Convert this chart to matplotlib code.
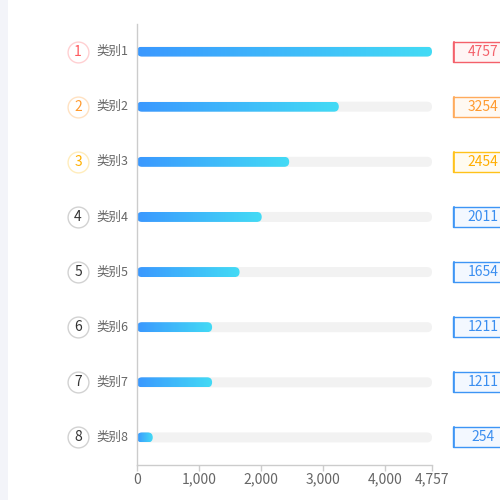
import matplotlib
matplotlib.use("Agg")
import matplotlib.pyplot as plt
import numpy as np
from matplotlib.patches import FancyBboxPatch, Rectangle
from matplotlib import transforms
from matplotlib.colors import LinearSegmentedColormap

plt.rcParams['font.family'] = ['Noto Sans CJK SC', 'DejaVu Sans']

categories = ['类别1', '类别2', '类别3', '类别4', '类别5', '类别6', '类别7', '类别8']
values = [4757, 3254, 2454, 2011, 1654, 1211, 1211, 254]
xticks = [0, 1000, 2000, 3000, 4000, 4757]
xtick_labels = ['0', '1,000', '2,000', '3,000', '4,000', '4,757']

rank_text_colors = ['#ff5a5f', '#ff9a2e', '#ffb000'] + ['#333333'] * 5
rank_edge_colors = ['#ffd0d2', '#ffe2c2', '#ffedbc'] + ['#d2d2d2'] * 5
box_edge_colors = ['#f4606a', '#ffab5c', '#ffc21a'] + ['#3d95f5'] * 5
box_face_colors = ['#fff5f5', '#fff9f2', '#fffbf0'] + ['#f3f8ff'] * 5
box_text_colors = ['#f4606a', '#ff9a2e', '#ffae00'] + ['#3a8ef0'] * 5

W, H = 500, 500
fig = plt.figure(figsize=(5, 5), dpi=100)
fig.patches.append(Rectangle((0, 0), 8 / W, 1, transform=fig.transFigure,
                             facecolor='#f3f4f9', edgecolor='none', zorder=0))

ax_l, ax_r, ax_b, ax_t = 137, 432, 465, 24
ax = fig.add_axes([ax_l / W, 1 - ax_b / H, (ax_r - ax_l) / W, (ax_b - ax_t) / H])
vmax = max(values)
n = len(categories)
ax.set_xlim(0, vmax)
ax.set_ylim(n - 0.5, -0.5)

xpp = vmax / (ax_r - ax_l)          # data x per pixel
ypp = n / (ax_b - ax_t)             # data y per pixel
aspect = ypp / xpp
bar_px = 10
bar_h = bar_px * ypp
rsize = (bar_px / 2) * xpp

cmap = LinearSegmentedColormap.from_list('g', ['#3a98ff', '#43dbf5'])
grad = np.linspace(0, 1, 256).reshape(1, -1)

for i, v in enumerate(values):
    bg = FancyBboxPatch((0, i - bar_h / 2), vmax, bar_h,
                        boxstyle=f"round,pad=0,rounding_size={rsize}",
                        mutation_aspect=aspect, facecolor='#f2f2f2',
                        edgecolor='none', zorder=1)
    ax.add_patch(bg)
    fg = FancyBboxPatch((0, i - bar_h / 2), v, bar_h,
                        boxstyle=f"round,pad=0,rounding_size={rsize}",
                        mutation_aspect=aspect, facecolor='none',
                        edgecolor='none', zorder=2)
    ax.add_patch(fg)
    im = ax.imshow(grad, cmap=cmap, aspect='auto',
                   extent=(0, v, i + bar_h / 2, i - bar_h / 2), zorder=2,
                   interpolation='bilinear')
    im.set_clip_path(fg)

ax.set_xlim(0, vmax)
ax.set_ylim(n - 0.5, -0.5)

blend = transforms.blended_transform_factory(fig.transFigure, ax.transData)
for i, cat in enumerate(categories):
    ax.plot([78 / W], [i], marker='o', markersize=15, markerfacecolor='white',
            markeredgecolor=rank_edge_colors[i], markeredgewidth=1.0,
            transform=blend, clip_on=False, zorder=5)
    ax.text(78 / W, i, str(i + 1), transform=blend, ha='center', va='center',
            fontsize=10, color=rank_text_colors[i], zorder=6)
    ax.text(128.5 / W, i, cat, transform=blend, ha='right', va='center',
            fontsize=9, color='#666666', zorder=6)
    bh = 20 * ypp
    rect = Rectangle((453 / W, i - bh / 2), 60 / W, bh, transform=blend,
                     facecolor=box_face_colors[i], edgecolor=box_edge_colors[i],
                     linewidth=1.0, clip_on=False, zorder=5)
    ax.add_patch(rect)
    ax.plot([454 / W, 454 / W], [i - bh / 2, i + bh / 2], color=box_edge_colors[i],
            linewidth=1.2, transform=blend, clip_on=False, zorder=6)
    ax.text(483 / W, i, str(values[i]), transform=blend, ha='center', va='center',
            fontsize=10, color=box_text_colors[i], zorder=7)

for s in ['top', 'right']:
    ax.spines[s].set_visible(False)
for s in ['left', 'bottom']:
    ax.spines[s].set_color('#cccccc')
    ax.spines[s].set_linewidth(1.0)
ax.set_yticks([])
ax.set_xticks(xticks)
ax.set_xticklabels(xtick_labels)
ax.tick_params(axis='x', colors='#cccccc', labelcolor='#666666', labelsize=10,
               length=4, width=1, pad=1.5)

fig.savefig('out.png', dpi=100, facecolor='white')
